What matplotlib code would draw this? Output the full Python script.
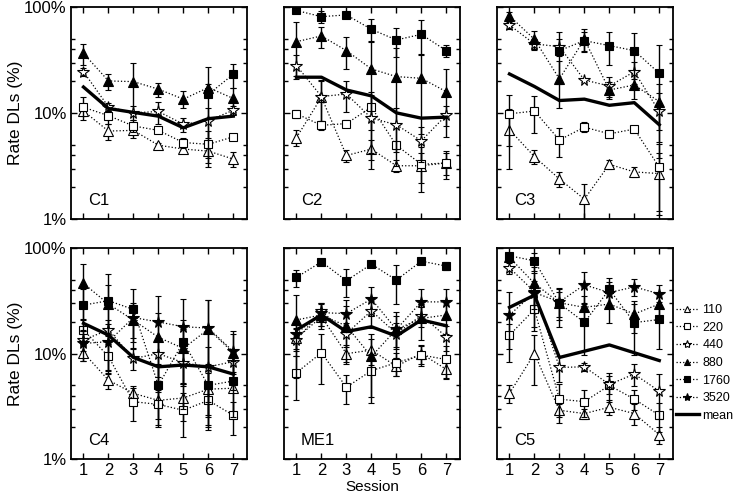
import numpy as np
import matplotlib
matplotlib.use('Agg')
import matplotlib.pyplot as plt
from matplotlib.lines import Line2D
from matplotlib.ticker import FixedLocator, NullFormatter

plt.rcParams['font.family'] = ['Liberation Sans', 'DejaVu Sans']

nan = np.nan
sessions = [1, 2, 3, 4, 5, 6, 7]
freqs = ['110', '220', '440', '880', '1760', '3520']
panel_names = ['C1', 'C2', 'C3', 'C4', 'ME1', 'C5']

# rate DLs (%) per frequency, rows in the order of freqs
C1_dl = [[10.5, 6.8, 6.9, 5.0, 4.6, 4.4, 3.7],
         [11.4, 9.5, 7.6, 6.9, 5.3, 5.1, 6.0],
         [24.7, 11.5, 10.1, 10.4, 7.9, 8.5, 10.7],
         [36.8, 20.2, 19.9, 16.9, 13.6, 17.5, 13.8],
         [nan, nan, nan, nan, nan, 15.1, 23.3],
         [nan, nan, nan, nan, nan, nan, nan]]
C1_sd = [[1.0, 1.2, 1.0, 0.2, 0.4, 0.6, 0.6],
         [2.8, 1.5, 1.0, 0.3, 0.6, 1.7, 0.4],
         [2.0, 1.0, 1.5, 2.5, 1.2, 2.6, 1.0],
         [8.0, 3.5, 10.0, 2.5, 2.5, 1.5, 3.5],
         [0, 0, 0, 0, 0, 12.0, 6.0],
         [0, 0, 0, 0, 0, 0, 0]]
C1_mean = [17.7, 11.1, 10.2, 9.4, 7.3, 8.9, 9.4]

C2_dl = [[5.9, 14.2, 4.0, 4.6, 3.2, 3.2, 3.4],
         [9.9, 7.7, 8.0, 11.4, 5.0, 3.3, 3.4],
         [28.2, 14.4, 15.2, 9.0, 7.8, 5.5, 9.6],
         [47.4, 53.7, 39.0, 26.2, 22.2, 21.4, 16.0],
         [93.3, 81.6, 84.8, 62.0, 49.2, 55.6, 39.0],
         [nan, nan, nan, nan, nan, nan, nan]]
C2_sd = [[1.0, 6.0, 0.5, 1.0, 0.4, 1.0, 1.0],
         [0.8, 0.8, 0.6, 4.5, 0.4, 1.5, 0.8],
         [7.0, 6.0, 5.0, 6.0, 3.5, 2.0, 2.0],
         [25.0, 12.0, 13.0, 22.0, 19.0, 15.0, 10.0],
         [5.0, 10.0, 5.0, 15.0, 15.0, 20.0, 5.0],
         [0, 0, 0, 0, 0, 0, 0]]
C2_mean = [21.9, 21.9, 16.6, 14.6, 10.1, 9.0, 9.2]

C3_dl = [[7.0, 3.9, 2.4, 1.55, 3.3, 2.8, 2.7],
         [9.9, 10.5, 5.6, 7.4, 6.4, 7.1, 3.1],
         [68.0, 45.1, 42.6, 20.6, 18.1, 24.7, 10.4],
         [82.8, 49.9, 21.1, 49.9, 16.6, 18.5, 12.9],
         [nan, nan, 39.0, 48.5, 43.5, 39.0, 23.8],
         [nan, nan, nan, nan, nan, nan, nan]]
C3_sd = [[4.0, 0.6, 0.4, 0.6, 0.3, 0.3, 1.5],
         [5.0, 4.0, 1.7, 0.8, 0.6, 0.3, 2.0],
         [5.0, 5.0, 8.0, 1.0, 4.0, 6.0, 5.0],
         [8.0, 10.0, 10.0, 12.0, 3.0, 5.0, 6.0],
         [0, 0, 20.0, 10.0, 15.0, 18.0, 20.0],
         [0, 0, 0, 0, 0, 0, 0]]
C3_mean = [23.5, 17.9, 13.2, 13.6, 11.9, 12.6, 7.8]

C4_dl = [[10.2, 5.6, 4.2, 3.6, 3.8, 4.6, 4.7],
         [16.8, 9.4, 3.5, 3.3, 2.9, 3.6, 2.6],
         [13.5, 16.8, 9.0, 10.0, 8.2, 7.5, 8.4],
         [46.4, 29.6, 20.8, 14.3, 11.2, 17.1, 10.2],
         [28.9, 31.8, 26.3, 5.0, 12.9, 5.0, 5.5],
         [12.5, 13.0, 22.0, 20.0, 18.0, 17.5, 10.5]]
C4_sd = [[1.6, 1.0, 0.7, 1.2, 1.5, 2.0, 2.0],
         [4.0, 3.0, 1.2, 1.2, 1.3, 1.7, 0.9],
         [3.0, 4.0, 2.0, 4.0, 3.0, 4.0, 2.0],
         [25.0, 15.0, 8.0, 10.0, 6.0, 15.0, 5.0],
         [12.0, 25.0, 15.0, 3.0, 8.0, 3.0, 3.0],
         [4.0, 6.0, 8.0, 15.0, 15.0, 15.0, 6.0]]
C4_mean = [19.4, 15.0, 9.2, 7.5, 7.8, 7.5, 6.4]

ME1_dl = [[14.0, 22.4, 10.0, 10.8, 7.6, 10.0, 7.1],
          [6.6, 10.2, 4.8, 6.9, 8.2, 9.7, 8.8],
          [13.5, 25.5, 15.5, 25.5, 15.5, 23.0, 14.5],
          [20.9, 23.3, 18.3, 9.4, 17.0, 21.6, 23.3],
          [52.9, 74.5, 49.2, 70.8, 49.9, 75.5, 67.8],
          [15.5, 24.5, 24.0, 33.0, 17.0, 31.0, 31.0]]
ME1_sd = [[3.0, 4.0, 2.0, 3.0, 1.5, 2.0, 1.2],
          [3.0, 5.0, 1.5, 3.0, 2.0, 2.0, 3.0],
          [4.0, 5.0, 4.0, 8.0, 4.0, 5.0, 4.0],
          [15.0, 6.0, 10.0, 6.0, 8.0, 8.0, 8.0],
          [10.0, 5.0, 15.0, 5.0, 20.0, 3.0, 6.0],
          [5.0, 6.0, 8.0, 10.0, 6.0, 10.0, 10.0]]
ME1_mean = [16.8, 23.3, 16.2, 18.0, 14.7, 20.9, 18.4]

C5_dl = [[4.2, 10.0, 2.9, 2.7, 3.1, 2.7, 1.7],
         [15.0, 26.3, 3.7, 3.5, 5.0, 3.7, 2.6],
         [65.3, 38.7, 7.4, 7.5, 5.1, 6.4, 4.4],
         [82.0, 46.4, 30.4, 27.5, 29.6, 23.8, 29.6],
         [84.9, 76.1, 30.0, 19.8, 40.7, 19.7, 21.1],
         [23.3, 38.0, 31.0, 45.0, 38.0, 43.0, 37.0]]
C5_sd = [[0.8, 5.0, 0.4, 0.3, 0.5, 0.6, 0.3],
         [4.0, 10.0, 1.5, 1.0, 1.5, 0.8, 0.8],
         [8.0, 10.0, 2.0, 0.6, 1.0, 1.5, 2.0],
         [5.0, 20.0, 8.0, 8.0, 10.0, 8.0, 8.0],
         [5.0, 15.0, 12.0, 10.0, 12.0, 10.0, 10.0],
         [15.0, 20.0, 10.0, 15.0, 10.0, 8.0, 8.0]]
C5_mean = [27.5, 35.9, 9.2, nan, 12.1, nan, 8.6]

all_dl = [C1_dl, C2_dl, C3_dl, C4_dl, ME1_dl, C5_dl]
all_sd = [C1_sd, C2_sd, C3_sd, C4_sd, ME1_sd, C5_sd]
all_mean = [C1_mean, C2_mean, C3_mean, C4_mean, ME1_mean, C5_mean]

# marker style per frequency: (marker, filled, size)
styles = [('^', False, 6.5), ('s', False, 6), ('*', False, 8.5),
          ('^', True, 6.5), ('s', True, 6), ('*', True, 8.5)]

fig = plt.figure(figsize=(7.4, 5.0), dpi=100)
W, H = 740., 500.
lefts = [71, 284, 497]
rows = [(7.3, 219.3), (248.3, 459)]

x = np.array(sessions, dtype=float)
for i, name in enumerate(panel_names):
    r, c = divmod(i, 3)
    top, bot = rows[r]
    ax = fig.add_axes([lefts[c] / W, 1 - bot / H, 176 / W, (bot - top) / H])
    for k in range(len(freqs)):
        v = np.array(all_dl[i][k], dtype=float)
        sd = np.array(all_sd[i][k], dtype=float)
        lo = np.minimum(sd, v * 0.97)
        mk, filled, ms = styles[k]
        ax.errorbar(x, v, yerr=[lo, sd], fmt=mk, linestyle=':', color='k',
                    lw=0.9, mfc='k' if filled else 'white', mec='k',
                    ms=ms, mew=0.8, ecolor='k', elinewidth=1.0,
                    capsize=2, capthick=0.8, zorder=3 + k * 0.1)
    m = np.array(all_mean[i], dtype=float)
    ok = ~np.isnan(m)
    ax.plot(x[ok], m[ok], color='k', lw=2.4, zorder=5)
    ax.set_yscale('log')
    ax.set_ylim(1, 100)
    ax.set_xlim(0.5, 7.55)
    ax.set_xticks(sessions)
    ax.yaxis.set_major_locator(FixedLocator([1, 10, 100]))
    ax.yaxis.set_minor_locator(FixedLocator([2, 3, 4, 5, 20, 30, 40, 50]))
    ax.yaxis.set_minor_formatter(NullFormatter())
    ax.tick_params(which='both', direction='in', top=True, right=True,
                   labelsize=12, width=1)
    ax.tick_params(which='major', length=4, pad=3)
    ax.tick_params(which='minor', length=3)
    for s in ax.spines.values():
        s.set_linewidth(1.3)
    if c == 0:
        ax.set_yticklabels(['1%', '10%', '100%'])
        ax.set_ylabel('Rate DLs (%)', fontsize=12.5)
        ax.yaxis.set_label_coords(-0.27, 0.5)
    else:
        ax.set_yticklabels([])
    if r == 0:
        ax.set_xticklabels([])
    if name == 'ME1':
        ax.set_xlabel('Session', fontsize=11, labelpad=1)
    ax.text(0.095, 0.09, name, transform=ax.transAxes, fontsize=12,
            ha='left', va='center')

handles = []
for k, f in enumerate(freqs):
    mk, filled, ms = styles[k]
    handles.append(Line2D([], [], color='k', linestyle=':', lw=0.9, marker=mk,
                          mfc='k' if filled else 'white', mec='k',
                          ms=ms * 0.7, mew=0.8, label=f))
handles.append(Line2D([], [], color='k', lw=2.4, label='mean'))
fig.legend(handles=handles, loc='upper left',
           bbox_to_anchor=(676 / W, 1 - 304 / H), frameon=False,
           fontsize=9, handlelength=1.8, handletextpad=0.3,
           labelspacing=0.45, borderpad=0, borderaxespad=0)

fig.savefig('out.png', dpi=100)
